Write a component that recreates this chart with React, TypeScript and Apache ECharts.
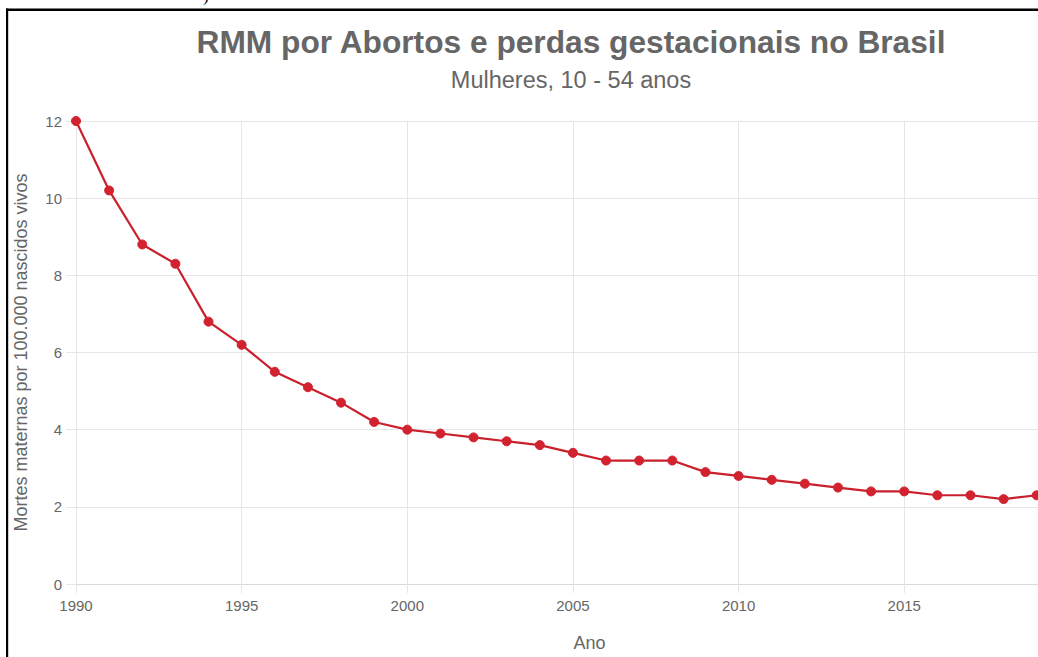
import React, { useEffect, useRef } from "react";
import * as echarts from "echarts";

const years: number[] = [1990, 1991, 1992, 1993, 1994, 1995, 1996, 1997, 1998, 1999, 2000, 2001, 2002, 2003, 2004, 2005, 2006, 2007, 2008, 2009, 2010, 2011, 2012, 2013, 2014, 2015, 2016, 2017, 2018, 2019];
const rmm: number[] = [12, 10.2, 8.8, 8.3, 6.8, 6.2, 5.5, 5.1, 4.7, 4.2, 4.0, 3.9, 3.8, 3.7, 3.6, 3.4, 3.2, 3.2, 3.2, 2.9, 2.8, 2.7, 2.6, 2.5, 2.4, 2.4, 2.3, 2.3, 2.2, 2.3];

const titleText = "RMM por Abortos e perdas gestacionais no Brasil";
const subtitleText = "Mulheres, 10 - 54 anos";
const xName = "Ano";
const yName = "Mortes maternas por 100.000 nascidos vivos";

const CHART_W = 1110;
const CHART_H = 657;
const LAST_VISIBLE_TICK = 2015;

export default function App() {
  const ref = useRef<HTMLDivElement>(null);
  useEffect(() => {
    if (!ref.current) return;
    const chart = echarts.init(ref.current, null, { renderer: "svg" });
    const gridColor = "#e6e6e6";
    const textColor = "#666666";
    const font = "Liberation Sans, Arial, sans-serif";
    chart.setOption({
      animation: false,
      backgroundColor: "#ffffff",
      title: {
        text: titleText,
        subtext: subtitleText,
        left: 566,
        top: 21,
        textAlign: "center",
        itemGap: 10,
        textStyle: { fontFamily: font, fontSize: 31.7, fontWeight: "bold", color: textColor },
        subtextStyle: { fontFamily: font, fontSize: 23.5, color: textColor },
      },
      graphic: [
        { type: "rect", shape: { x: 6, y: 8.5, width: 1100, height: 2.5 }, style: { fill: "#000" } },
        { type: "rect", shape: { x: 6, y: 8.5, width: 2.2, height: 660 }, style: { fill: "#000" } },
        { type: "text", x: 203, y: -14, style: { text: ")", fontFamily: "Liberation Serif, serif", fontSize: 18, fill: "#000" } },
      ],
      grid: { left: 76, right: 7, top: 121, bottom: 63, containLabel: false },
      xAxis: {
        type: "value",
        min: 1990,
        max: 2021,
        interval: 5,
        name: xName,
        nameLocation: "middle",
        nameGap: 50,
        nameTextStyle: { fontFamily: font, fontSize: 18, color: textColor },
        axisLine: { show: true, lineStyle: { color: "#d9d9d9", width: 1 } },
        axisTick: { show: true, length: 9, lineStyle: { color: gridColor } },
        axisLabel: {
          margin: 14,
          fontFamily: font,
          fontSize: 15,
          color: textColor,
          showMaxLabel: false,
          formatter: (v: number) => (v > LAST_VISIBLE_TICK ? "" : String(v)),
        },
        splitLine: { show: true, lineStyle: { color: gridColor, width: 1 } },
      },
      yAxis: {
        type: "value",
        min: 0,
        max: 12,
        interval: 2,
        name: yName,
        nameLocation: "middle",
        nameGap: 46,
        nameTextStyle: { fontFamily: font, fontSize: 18, color: textColor },
        axisLine: { show: false },
        axisTick: { show: true, length: 10, lineStyle: { color: gridColor } },
        axisLabel: {
          margin: 14,
          fontFamily: font,
          fontSize: 15,
          color: textColor,
        },
        splitLine: { show: true, lineStyle: { color: gridColor, width: 1 } },
      },
      series: [
        {
          type: "line",
          data: years.map((y, i) => [y, rmm[i]]),
          lineStyle: { color: "#c9202c", width: 2.2 },
          itemStyle: { color: "#d3222f", borderColor: "#d3222f", borderWidth: 1 },
          symbol: "circle",
          symbolSize: 9,
          clip: false,
        },
      ],
    });
    return () => chart.dispose();
  }, []);
  return (
    <div style={{ position: "fixed", left: 0, top: 0, width: 1038, height: 657, overflow: "hidden", background: "#fff" }}>
      <div ref={ref} style={{ position: "absolute", left: 0, top: 0, width: CHART_W, height: CHART_H }} />
    </div>
  );
}
